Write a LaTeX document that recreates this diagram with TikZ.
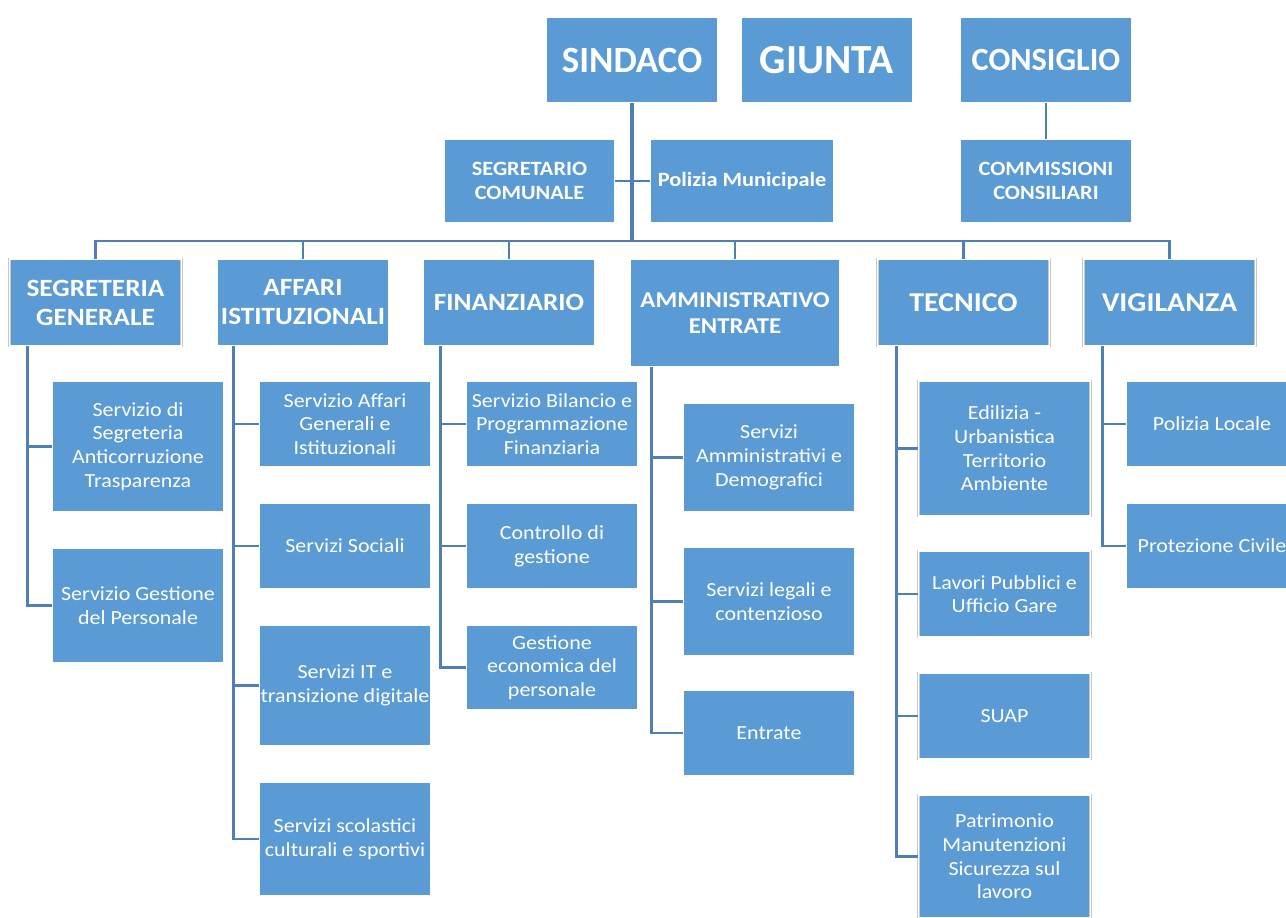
\documentclass[tikz,border=0pt]{standalone}
\usepackage{fontspec}
\setmainfont{Carlito}[FakeStretch=1.1]
\newfontfamily\headfont{Carlito}
\usepackage{xcolor}
\usepackage{tikz}
\usetikzlibrary{positioning, calc}

\definecolor{boxblue}{HTML}{5B9BD5}
\definecolor{linkblue}{HTML}{4F7FB3}
\definecolor{rimgray}{HTML}{C8C8C8}

\begin{document}
\begin{tikzpicture}[x=1pt, y=-1pt,
    box/.style={fill=boxblue, draw=rimgray, double=white, double distance=1.2pt, line width=0.5pt, text=white, align=center, inner sep=1pt},
    headbox/.style={box, minimum width=172pt, minimum height=86pt, font=\headfont\bfseries\fontsize{37}{42}\selectfont},
    staffbox/.style={box, minimum height=84pt, font=\bfseries\fontsize{20.3}{24}\selectfont},
    deptbox/.style={box, minimum width=172pt, minimum height=87pt, font=\bfseries\fontsize{24.8}{29}\selectfont},
    unitbox/.style={box, minimum width=172pt, font=\fontsize{20}{23.7}\selectfont},
    link/.style={draw=linkblue, line width=2.6pt},
    trunk/.style={link, line width=3.6pt}
]
\useasboundingbox (0,0) rectangle (1286,918);
% Organi di vertice
\node[headbox] (sindaco)   at (632,60)  {SINDACO};
\node[headbox, font=\headfont\bfseries\fontsize{41.4}{46}\selectfont] (giunta) at (827,60) {GIUNTA};
\node[headbox, font=\headfont\bfseries\fontsize{32.3}{37}\selectfont] (consiglio) at (1046,60) {CONSIGLIO};
\node[staffbox, minimum width=171pt] (segretario)  at (529.5,181) {SEGRETARIO\\COMUNALE};
\node[staffbox, minimum width=184pt] (polizia)     at (742,181)   {Polizia Municipale};
\node[staffbox, minimum width=172pt] (commissioni) at (1046,181)  {COMMISSIONI\\CONSILIARI};
% Settori
\node[deptbox] (segrgen)  at (95.5,302.5)  {SEGRETERIA\\GENERALE};
\node[deptbox] (affari)   at (303,302.5)   {AFFARI\\ISTITUZIONALI};
\node[deptbox] (finanz)   at (509,302.5)   {FINANZIARIO};
\node[deptbox, minimum width=210pt, minimum height=108pt, font=\bfseries\fontsize{22.6}{26}\selectfont] (amminist) at (735,313) {AMMINISTRATIVO\\ENTRATE};
\node[deptbox, font=\bfseries\fontsize{27.2}{32}\selectfont] (tecnico)  at (963.5,302.5) {TECNICO};
\node[deptbox, font=\bfseries\fontsize{27.2}{32}\selectfont] (vigil)    at (1169.5,302.5) {VIGILANZA};
% Servizi
\node[unitbox, minimum height=131pt] (s1) at (138,446.5) {Servizio di\\Segreteria\\Anticorruzione\\Trasparenza};
\node[unitbox, minimum height=115pt] (s2) at (138,605.5) {Servizio Gestione\\del Personale};
\node[unitbox, minimum height=86pt]  (a1) at (345,424)   {Servizio Affari\\Generali e\\Istituzionali};
\node[unitbox, minimum height=86pt]  (a2) at (345,546)   {Servizi Sociali};
\node[unitbox, minimum height=121pt] (a3) at (345,685.5) {Servizi IT e\\transizione digitale};
\node[unitbox, minimum height=114pt] (a4) at (345,839)   {Servizi scolastici\\culturali e sportivi};
\node[unitbox, minimum height=86pt]  (f1) at (552,424)   {Servizio Bilancio e\\Programmazione\\Finanziaria};
\node[unitbox, minimum height=86pt]  (f2) at (552,546)   {Controllo di\\gestione};
\node[unitbox, minimum height=85pt]  (f3) at (552,667.5) {Gestione\\economica del\\personale};
\node[unitbox, minimum height=109pt] (m1) at (769,457.5) {Servizi\\Amministrativi e\\Demografici};
\node[unitbox, minimum height=109pt] (m2) at (769,601.5) {Servizi legali e\\contenzioso};
\node[unitbox, minimum height=86pt]  (m3) at (769,733)   {Entrate};
\node[unitbox, minimum height=135pt] (t1) at (1004.5,448.5) {Edilizia -\\Urbanistica\\Territorio\\Ambiente};
\node[unitbox, minimum height=86pt]  (t2) at (1004.5,594)   {Lavori Pubblici e\\Ufficio Gare};
\node[unitbox, minimum height=86pt]  (t3) at (1004.5,716)   {SUAP};
\node[unitbox, minimum height=123pt] (t4) at (1004.5,856.5) {Patrimonio\\Manutenzioni\\Sicurezza sul\\lavoro};
\node[unitbox, minimum height=86pt]  (v1) at (1212,424) {Polizia Locale};
\node[unitbox, minimum height=86pt]  (v2) at (1212,546) {Protezione Civile};
% Collegamenti
\coordinate (bus) at (632,241);
\draw[trunk] (sindaco) -- (bus);
\draw[link] (segretario) -- (polizia);
\draw[link] (consiglio) -- (commissioni);
\foreach \d in {segrgen, affari, finanz, amminist, tecnico, vigil}
    \draw[link] (bus) -| (\d.north);
\foreach \c in {s1, s2}
    \draw[link] (segrgen.south west) ++(18,0) |- (\c.west);
\foreach \c in {a1, a2, a3, a4}
    \draw[link] (affari.south west) ++(17,0) |- (\c.west);
\foreach \c in {f1, f2, f3}
    \draw[link] (finanz.south west) ++(18,0) |- (\c.west);
\foreach \c in {m1, m2, m3}
    \draw[link] (amminist.south west) ++(22,0) |- (\c.west);
\foreach \c in {t1, t2, t3, t4}
    \draw[link] (tecnico.south west) ++(19,0) |- (\c.west);
\foreach \c in {v1, v2}
    \draw[link] (vigil.south west) ++(19,0) |- (\c.west);
\end{tikzpicture}
\end{document}
